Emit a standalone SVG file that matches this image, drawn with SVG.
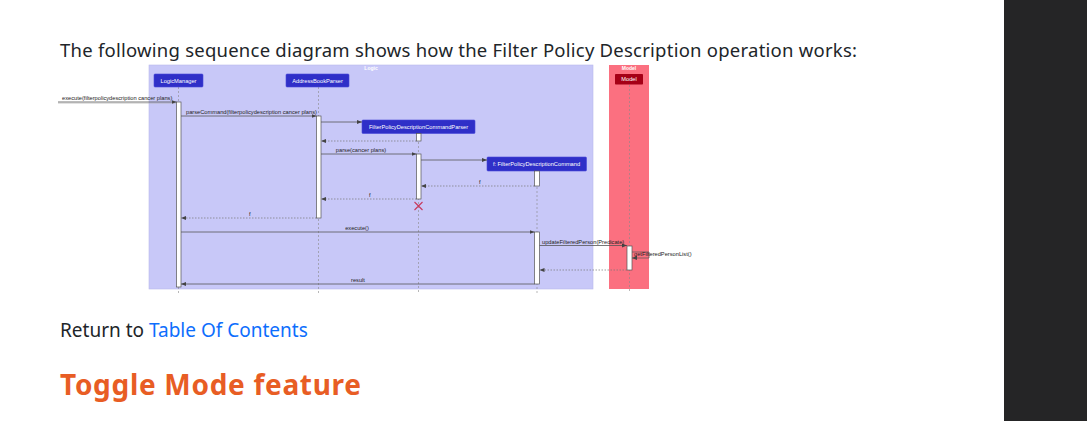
<svg xmlns="http://www.w3.org/2000/svg" width="1087" height="421" viewBox="0 0 1087 421">
<style>
.doc{font-family:"Noto Sans","Open Sans","Liberation Sans",sans-serif;}
.lbl{font-family:"Liberation Sans",Arial,sans-serif;font-size:5.7px;fill:#222;}
.pname{font-family:"Liberation Sans",Arial,sans-serif;font-size:5.7px;fill:#fff;}
.box{fill:#2f2fc8;stroke:#4848d8;stroke-width:0.6;}
.life{stroke:#888;stroke-width:0.6;stroke-dasharray:2,2;fill:none;}
.act{fill:#fff;stroke:#555;stroke-width:0.7;}
.msg{stroke:#555;stroke-width:0.8;fill:none;marker-end:url(#ah);}
.ret{stroke:#777;stroke-width:0.7;stroke-dasharray:1.5,1.5;fill:none;marker-end:url(#ah);}
</style>
<defs>
<marker id="ah" viewBox="0 0 10 10" refX="10" refY="5" markerWidth="5" markerHeight="5" orient="auto" markerUnits="userSpaceOnUse">
<path d="M0,1 L10,5 L0,9 Z" fill="#444"/>
</marker>
</defs>
<rect width="1087" height="421" fill="#fff"/>
<rect x="1004" y="0" width="83" height="421" fill="#252526"/>
<text class="doc" x="60" y="57" font-size="18.5" fill="#212529" textLength="797">The following sequence diagram shows how the Filter Policy Description operation works:</text>

<g id="logic-frame">
<rect x="149" y="65" width="444" height="224" fill="#c8c8f8" stroke="#b8b8ec" stroke-width="0.6"/>
<text x="371" y="70" font-family="Liberation Sans,Arial,sans-serif" font-size="5" font-weight="bold" fill="#fff" text-anchor="middle">Logic</text>
</g>
<g id="model-frame">
<rect x="609" y="65" width="40" height="224" fill="#fb7080"/>
<text x="629" y="70" font-family="Liberation Sans,Arial,sans-serif" font-size="5" font-weight="bold" fill="#fff" text-anchor="middle">Model</text>
</g>

<g id="lifelines">
<line class="life" x1="178.5" y1="87" x2="178.5" y2="293"/>
<line class="life" x1="318.5" y1="87" x2="318.5" y2="293"/>
<line class="life" x1="418.5" y1="134" x2="418.5" y2="293"/>
<line class="life" x1="537" y1="171" x2="537" y2="293"/>
<line class="life" x1="629.5" y1="85" x2="629.5" y2="293"/>
</g>

<g id="LogicManager">
<rect class="box" x="154" y="74" width="49" height="13" rx="1"/>
<text class="pname" x="178.5" y="82.5" text-anchor="middle">LogicManager</text>
<rect class="act" x="176.5" y="102" width="4.5" height="185"/>
</g>
<g id="AddressBookParser">
<rect class="box" x="286" y="74" width="63" height="13" rx="1"/>
<text class="pname" x="317.5" y="82.5" text-anchor="middle">AddressBookParser</text>
<rect class="act" x="316.5" y="116" width="4.5" height="102"/>
</g>
<g id="FilterPolicyDescriptionCommandParser">
<rect class="box" x="362" y="120" width="113" height="13.5" rx="1"/>
<text class="pname" x="418.5" y="129" text-anchor="middle">FilterPolicyDescriptionCommandParser</text>
<rect class="act" x="416.5" y="133.5" width="4.5" height="7.5"/>
<rect class="act" x="416.5" y="154" width="4.5" height="45"/>
<path d="M414.5,202 L422.5,210 M422.5,202 L414.5,210" stroke="#c8385c" stroke-width="1.1"/>
</g>
<g id="FilterPolicyDescriptionCommand">
<rect class="box" x="487" y="157" width="99.5" height="14" rx="1"/>
<text class="pname" x="536.5" y="166" text-anchor="middle">f: FilterPolicyDescriptionCommand</text>
<rect class="act" x="534.5" y="171" width="5" height="15"/>
<rect class="act" x="534.5" y="232" width="5" height="52"/>
</g>
<g id="Model">
<rect x="615" y="74" width="28" height="10.5" fill="#a50016" rx="0.8"/>
<text class="pname" x="629" y="81.3" text-anchor="middle" fill="#f0c0c8">Model</text>
<rect class="act" x="627" y="246" width="5" height="24"/>
</g>

<g id="connectors">
<line x1="58" y1="103.2" x2="176" y2="103.2" stroke="#aaa" stroke-width="0.5"/>
<line class="msg" x1="58" y1="102" x2="176.5" y2="102"/>
<text class="lbl" x="62" y="100">execute(filterpolicydescription cancer plans)</text>

<line class="msg" x1="181" y1="116" x2="316.5" y2="116"/>
<text class="lbl" x="186" y="114">parseCommand(filterpolicydescription cancer plans)</text>

<line class="msg" x1="321" y1="122" x2="362" y2="122"/>
<line class="ret" x1="416.5" y1="141" x2="321" y2="141"/>

<line class="msg" x1="321" y1="154" x2="416.5" y2="154"/>
<text class="lbl" x="361" y="152" text-anchor="middle">parse(cancer plans)</text>

<line class="msg" x1="421" y1="160" x2="487" y2="160"/>

<line class="ret" x1="534.5" y1="186" x2="421" y2="186"/>
<text class="lbl" x="479" y="183.5">f</text>

<line class="ret" x1="416.5" y1="199" x2="321" y2="199"/>
<text class="lbl" x="369" y="196.5">f</text>

<line class="ret" x1="316.5" y1="218" x2="181" y2="218"/>
<text class="lbl" x="249" y="215.5">f</text>

<line class="msg" x1="181" y1="232" x2="534.5" y2="232"/>
<text class="lbl" x="357" y="230" text-anchor="middle">execute()</text>

<line class="msg" x1="539.5" y1="245.5" x2="627" y2="245.5"/>
<text class="lbl" x="542" y="243.5">updateFilteredPerson(Predicate)</text>

<path d="M632,252 L649,252 L649,258 L632,258" stroke="#555" stroke-width="0.7" fill="none" marker-end="url(#ah)"/>
<text class="lbl" x="634" y="256" font-size="5.5">getFilteredPersonList()</text>

<line class="ret" x1="627" y1="270" x2="539.5" y2="270"/>

<line class="msg" x1="534.5" y1="284" x2="181" y2="284"/>
<text class="lbl" x="358" y="281.5" text-anchor="middle">result</text>
</g>

<text class="doc" x="60" y="337" font-size="19" fill="#212529">Return to <tspan fill="#0d6efd">Table Of Contents</tspan></text>
<text class="doc" x="60" y="395" font-size="28" font-weight="bold" fill="#e85d24" textLength="301">Toggle Mode feature</text>
</svg>
